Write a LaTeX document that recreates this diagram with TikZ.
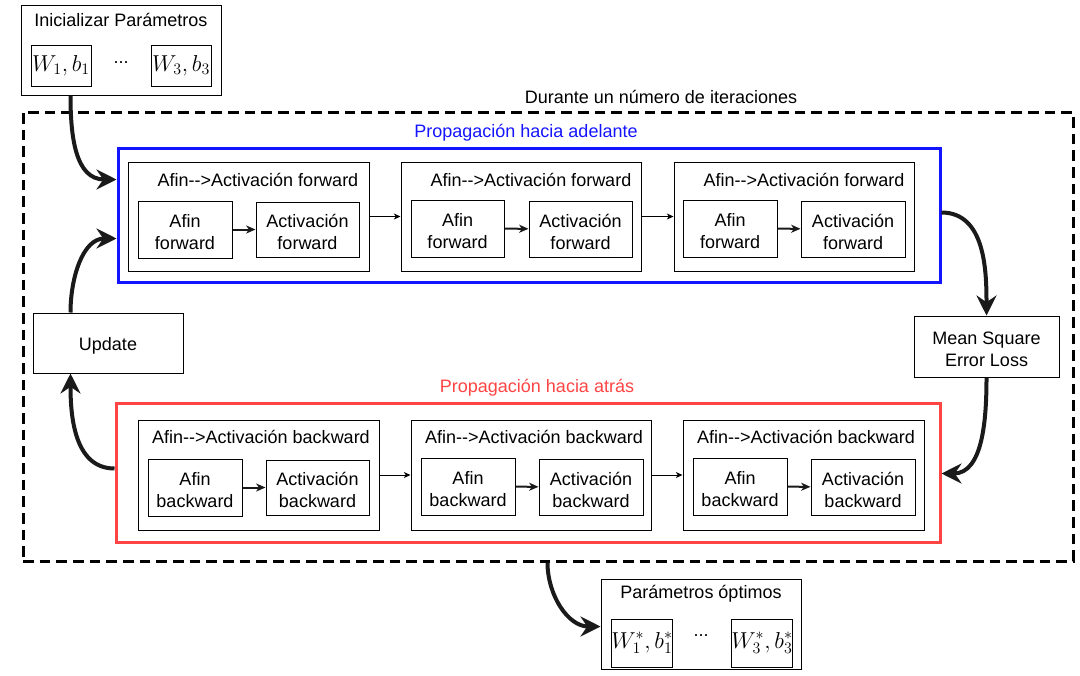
\documentclass[tikz,border=0pt]{standalone}
\usepackage{fontspec}
\setmainfont{Liberation Sans}
\usetikzlibrary{arrows.meta,calc}
\definecolor{fblue}{RGB}{20,20,255}
\definecolor{bred}{RGB}{255,68,68}
\definecolor{ink}{RGB}{26,26,26}
\newcommand\rbox[7]{\node[#6, minimum width={(#4-#2)*0.75pt}, minimum height={(#5-#3)*0.75pt}] (#1) at ({(#2+#4)/2},{(#3+#5)/2}) {#7};}
\newcommand\tbox[6]{\node[box, minimum width={(#4-#2)*0.75pt}, minimum height={(#5-#3)*0.75pt}, label={[lbl,yshift=-2.2pt]center:{#6}}] (#1) at ({(#2+#4)/2},{(#3+#5)/2}) {};}
\begin{document}
\begin{tikzpicture}[x=0.75pt,y=-0.75pt,
  font=\fontsize{13.5}{16.5}\selectfont,
  box/.style={draw, line width=0.75pt, inner sep=0pt, align=center},
  mfont/.style={font=\fontsize{16.5}{18}\selectfont},
  lbl/.style={inner sep=0pt, align=center},
  frameblue/.style={draw=fblue, line width=2.25pt, inner sep=0pt},
  framered/.style={draw=bred, line width=2.25pt, inner sep=0pt},
  dashframe/.style={draw, line width=2.25pt, dash pattern=on 8pt off 4.5pt, inner sep=0pt},
  bigarrow/.style={line width=3pt, draw=ink, -{Stealth[length=15pt,width=15pt,inset=5pt]}},
  midarrow/.style={line width=1.5pt, draw=ink, -{Stealth[length=7pt,width=6pt,inset=2pt]}},
  thinarrow/.style={line width=0.75pt, draw=black, -{Stealth[length=5pt,width=4.5pt,inset=1.5pt]}}]
\useasboundingbox (0,0) rectangle (1080,675);

% initial parameters
\rbox{init}{21}{5}{221}{95}{box}{}
\node[lbl] (initT) at (121,20) {Inicializar Parámetros};
\rbox{w1}{31}{45}{91}{86}{box,mfont}{$W_1, b_1$}
\rbox{w3}{151}{45}{211}{86}{box,mfont}{$W_3, b_3$}
\node[lbl] (idots) at (121,63) {...};

% dashed iterations frame
\rbox{dashed}{23}{112}{1073}{561}{dashframe}{}
\node[lbl] (durT) at (661,97) {Durante un número de iteraciones};

% forward frame
\rbox{blue}{118}{148}{940}{282}{frameblue}{}
\node[lbl, text=fblue] (blueT) at (526,133) {Propagación hacia adelante};

\rbox{f1}{128}{162}{369}{271}{box}{}
\node[lbl] (f1T) at (258,180) {Afin{-}{-}>Activación forward};
\tbox{f1a}{138}{201}{232}{258}{Afin\\forward}
\tbox{f1b}{256}{202}{359}{257}{Activación\\forward}

\rbox{f2}{401}{162}{641}{271}{box}{}
\node[lbl] (f2T) at (531,180) {Afin{-}{-}>Activación forward};
\tbox{f2a}{411}{200}{504}{257}{Afin\\forward}
\tbox{f2b}{529}{201}{632}{257}{Activación\\forward}

\rbox{f3}{674}{162}{914}{271}{box}{}
\node[lbl] (f3T) at (804,180) {Afin{-}{-}>Activación forward};
\tbox{f3a}{683}{200}{777}{257}{Afin\\forward}
\tbox{f3b}{801}{201}{905}{257}{Activación\\forward}

\draw[midarrow] (f1a) -- (f1b);
\draw[midarrow] (f2a) -- (f2b);
\draw[midarrow] (f3a) -- (f3b);
\draw[thinarrow] (f1) -- (f2);
\draw[thinarrow] (f2) -- (f3);

% update and loss
\tbox{upd}{33}{313}{183}{373}{Update}
\tbox{mse}{914}{316}{1059}{377}{Mean Square\\Error Loss}

% backward frame
\rbox{red}{116}{403}{940}{542}{framered}{}
\node[lbl, text=bred] (redT) at (537,388) {Propagación hacia atrás};

\rbox{b1}{138}{420}{379}{530}{box}{}
\node[lbl] (b1T) at (261,437) {Afin{-}{-}>Activación backward};
\tbox{b1a}{148}{459}{242}{516}{Afin\\backward}
\tbox{b1b}{266}{460}{369}{515}{Activación\\backward}

\rbox{b2}{411}{420}{651}{530}{box}{}
\node[lbl] (b2T) at (534,437) {Afin{-}{-}>Activación backward};
\tbox{b2a}{421}{458}{515}{515}{Afin\\backward}
\tbox{b2b}{539}{459}{643}{515}{Activación\\backward}

\rbox{b3}{683}{420}{924}{530}{box}{}
\node[lbl] (b3T) at (806,437) {Afin{-}{-}>Activación backward};
\tbox{b3a}{693}{458}{787}{515}{Afin\\backward}
\tbox{b3b}{811}{459}{915}{515}{Activación\\backward}

\draw[midarrow] (b1a) -- (b1b);
\draw[midarrow] (b2a) -- (b2b);
\draw[midarrow] (b3a) -- (b3b);
\draw[thinarrow] (b1) -- (b2);
\draw[thinarrow] (b2) -- (b3);

% optimal parameters
\rbox{opt}{601}{579}{801}{669}{box}{}
\node[lbl] (optT) at (701,594) {Parámetros óptimos};
\rbox{o1}{612}{619}{672}{667}{box,mfont}{$W^*_1, b^*_1$}
\rbox{o3}{732}{619}{792}{667}{box,mfont}{$W^*_3, b^*_3$}
\node[lbl] (odots) at (701,636) {...};

% big curved arrows
\draw[bigarrow] ($(init.south west)+(50,0)$) to[out=-90,in=180,looseness=1.1] ($(blue.north west)+(0,33)$);
\draw[bigarrow] ($(upd.north west)+(38,0)$) to[out=90,in=180] ($(blue.north west)+(0,92)$);
\draw[bigarrow] ($(red.north west)+(0,67)$) to[out=180,in=-90] ($(upd.south west)+(38,0)$);
\draw[bigarrow] ($(blue.north east)+(0,66)$) to[out=0,in=90] (mse.north);
\draw[bigarrow] (mse.south) to[out=-90,in=0] ($(red.north east)+(0,72)$);
\draw[bigarrow] ($(dashed.south west)+(526,0)$) to[out=-90,in=180] ($(opt.north west)+(0,48)$);
\end{tikzpicture}
\end{document}
